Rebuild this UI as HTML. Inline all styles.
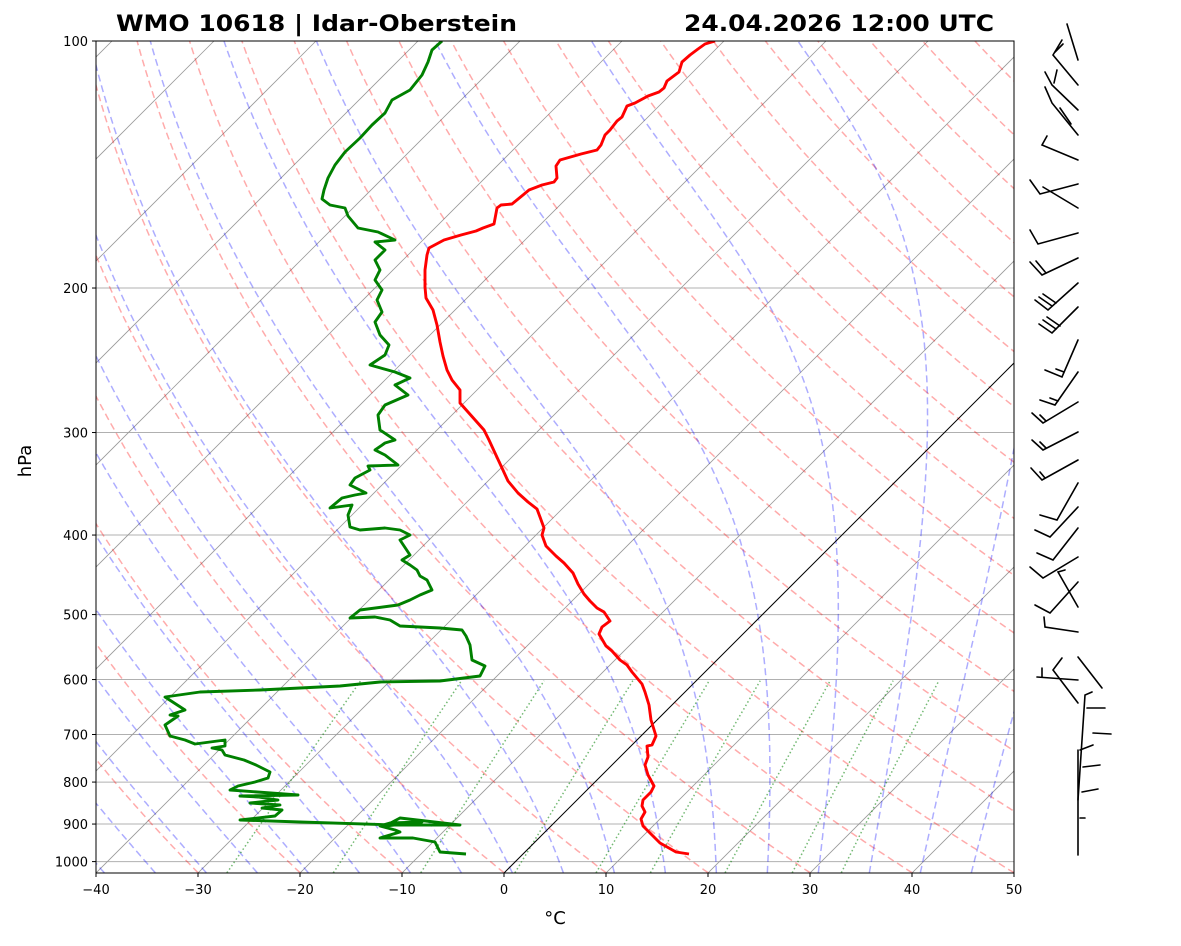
<!DOCTYPE html>
<html><head><meta charset="utf-8"><style>
body{margin:0;background:#fff;}
svg text{font-family:"DejaVu Sans","Liberation Sans",sans-serif;}
</style></head><body>
<svg id="s" width="1181" height="941" xmlns="http://www.w3.org/2000/svg">
<defs><clipPath id="c"><rect x="96" y="41" width="918" height="832"/></clipPath></defs>
<rect width="1181" height="941" fill="#fff"/>
<g id="bg" clip-path="url(#c)"></g>
<g id="data" clip-path="url(#c)"></g>
<rect x="96" y="41" width="918" height="832" fill="none" stroke="#000" stroke-width="1"/>
<g id="ax"></g>
<g id="barbs" stroke="#000" stroke-width="1.6" fill="none" stroke-linecap="round"></g>
<text x="116" y="31" font-size="22" font-weight="bold" textLength="401" lengthAdjust="spacingAndGlyphs">WMO 10618 | Idar-Oberstein</text>
<text x="684" y="31" font-size="22" font-weight="bold" textLength="310" lengthAdjust="spacingAndGlyphs">24.04.2026 12:00 UTC</text>
<text x="31" y="461" font-size="18" text-anchor="middle" transform="rotate(-90 31 461)">hPa</text>
<text x="555" y="924" font-size="18" text-anchor="middle">°C</text>
</svg>
<script>
const NS="http://www.w3.org/2000/svg";
const PB=1032, Y0=41, D=820.6;
function Y(p){return Y0+D*Math.log10(p/100);}
function X(T,p){const y=Y(p);return 504+10.2*T+(873-y);}
function el(parent,tag,attrs){const e=document.createElementNS(NS,tag);for(const k in attrs)e.setAttribute(k,attrs[k]);parent.appendChild(e);return e;}
function poly(parent,pts,attrs){attrs.points=pts.map(q=>q[0].toFixed(1)+","+q[1].toFixed(1)).join(" ");attrs.fill="none";return el(parent,"polyline",attrs);}
const bg=document.getElementById("bg"), ax=document.getElementById("ax");
for(let p=100;p<=1000;p+=100){el(bg,"line",{x1:96,x2:1014,y1:Y(p),y2:Y(p),stroke:"#b0b0b0","stroke-width":1});}
for(let T=-130;T<=50;T+=10){if(T===0)continue;el(bg,"line",{x1:X(T,PB),y1:Y(PB),x2:X(T,100),y2:Y(100),stroke:"#999","stroke-width":0.8});}
const ps=[];for(let p=PB;p>=99;p-=4)ps.push(p);ps.push(100);
for(let t=-30;t<=200;t+=10){const th=t+273.15;const pts=ps.map(p=>[X(th*Math.pow(p/PB,0.2857)-273.15,p),Y(p)]);poly(bg,pts,{stroke:"rgba(255,0,0,0.33)","stroke-width":1.5,"stroke-dasharray":"7,4"});}
function dTdp(p,T){const es=6.112*Math.exp(17.67*(T-273.15)/(T-29.65));const rs=0.622*es/Math.max(p-es,1);const num=287.04*T+2.501e6*rs;const den=1005.7+2.501e6*2.501e6*rs*0.622/(287.04*T*T);return num/den/p;}
for(let k=-10;k<=9;k++){const t0=5*k+0.8;let T=t0+273.15,p=PB;const pts=[[X(t0,p),Y(p)]];const h=-2;while(p>100){const k1=dTdp(p,T),k2=dTdp(p+h/2,T+h/2*k1),k3=dTdp(p+h/2,T+h/2*k2),k4=dTdp(p+h,T+h*k3);T+=h/6*(k1+2*k2+2*k3+k4);p+=h;pts.push([X(T-273.15,p),Y(p)]);}poly(bg,pts,{stroke:"rgba(0,0,255,0.32)","stroke-width":1.5,"stroke-dasharray":"7,4"});}
[0.0004,0.001,0.002,0.004,0.007,0.01,0.016,0.024,0.032].forEach(w=>{const pts=[];for(let p=PB;p>=600;p-=10){const e=p*w/(0.622+w);const l=Math.log(e/6.112);pts.push([X(243.5*l/(17.67-l),p),Y(p)]);}poly(bg,pts,{stroke:"rgba(0,128,0,0.55)","stroke-width":1.5,"stroke-dasharray":"1.5,2.5"});});
el(bg,"line",{x1:X(0,PB),y1:Y(PB),x2:X(0,100),y2:Y(100),stroke:"#000","stroke-width":1});
for(let p=100;p<=1000;p+=100){const y=Y(p);el(ax,"line",{x1:92,x2:96,y1:y,y2:y,stroke:"#000"});const t=el(ax,"text",{x:88,y:y+5,"font-size":13,"text-anchor":"end"});t.textContent=p;}
for(let T=-40;T<=50;T+=10){const x=96+(T+40)*10.2;el(ax,"line",{x1:x,x2:x,y1:873,y2:877,stroke:"#000"});const t=el(ax,"text",{x:x,y:894,"font-size":13,"text-anchor":"middle"});t.textContent=(T<0?"\u2212"+(-T):T);}
const data=document.getElementById("data");
const red=[[689,854],[676,852],[660,843],[643,826],[641,819],[645,812],[642,806],[643,800],[651,792],[654,786],[648,775],[645,765],[648,757],[647,746],[652,745],[656,736],[651,720],[649,705],[645,692],[642,684],[637,678],[632,672],[627,665],[620,660],[612,651],[606,646],[599,634],[602,627],[610,621],[604,612],[597,608],[590,601],[584,594],[578,584],[573,573],[564,563],[556,556],[546,546],[542,535],[544,528],[540,517],[537,509],[528,502],[518,493],[508,481],[502,468],[495,453],[489,440],[484,430],[476,421],[468,412],[460,403],[460,390],[452,380],[447,370],[443,356],[440,342],[437,325],[433,310],[426,298],[425,287],[425,270],[427,255],[429,248],[444,240],[461,235],[476,231],[483,228],[494,224],[497,208],[501,205],[512,204],[523,195],[529,190],[542,185],[554,182],[557,178],[556,166],[560,160],[581,154],[597,150],[601,145],[605,135],[610,130],[617,121],[622,117],[627,106],[635,103],[648,96],[659,92],[664,88],[667,81],[679,72],[682,62],[690,55],[698,49],[705,44],[715,41]];
const grn=[[466,854],[440,852],[435,842],[413,838],[380,838],[400,832],[395,830],[380,826],[390,823],[422,822],[385,826],[400,818],[460,825],[395,825],[300,822],[240,820],[275,816],[282,810],[262,808],[280,805],[250,803],[278,800],[258,797],[240,796],[298,795],[230,790],[238,786],[255,782],[268,778],[270,772],[256,765],[244,760],[225,755],[222,750],[212,748],[225,746],[225,740],[195,744],[185,740],[170,736],[165,725],[178,716],[170,715],[185,710],[165,697],[200,692],[260,690],[340,686],[380,682],[440,681],[480,676],[485,666],[472,660],[470,645],[466,636],[462,630],[440,628],[400,626],[390,620],[375,617],[350,618],[360,610],[398,605],[410,600],[420,595],[432,590],[427,580],[420,576],[417,570],[410,565],[402,560],[410,555],[400,540],[410,535],[400,530],[385,528],[360,530],[350,527],[348,515],[352,505],[330,508],[342,498],[355,495],[366,493],[350,485],[355,478],[370,470],[368,466],[398,465],[385,455],[375,450],[385,443],[395,440],[380,430],[378,415],[385,405],[408,395],[395,385],[410,378],[395,372],[370,365],[385,355],[389,345],[380,335],[375,322],[382,312],[377,300],[382,290],[375,280],[380,270],[375,260],[385,250],[375,242],[395,240],[378,232],[358,228],[348,216],[345,208],[330,205],[322,199],[324,190],[328,178],[335,165],[345,152],[360,138],[372,125],[385,113],[392,100],[410,90],[422,75],[428,62],[432,50],[442,41]];
poly(data,red,{stroke:"#ff0000","stroke-width":2.9,"stroke-linejoin":"round"});
poly(data,grn,{stroke:"#008000","stroke-width":2.9,"stroke-linejoin":"round"});
const B=document.getElementById("barbs");
const bl=[
[[1078,60],[1067,24]],
[[1078,85],[1053,55],[1062,40]],[[1055,52],[1063,44]],
[[1078,110],[1052,85],[1045,72]],[[1054,83],[1057,70]],
[[1078,135],[1052,103],[1045,87]],[[1071,124],[1060,108]],
[[1078,160],[1042,145],[1047,136]],
[[1078,184],[1040,194],[1030,180]],[[1078,208],[1043,187]],
[[1078,233],[1038,244],[1030,230]],
[[1078,258],[1042,275],[1030,262]],[[1046,273],[1036,261]],
[[1078,283],[1048,310],[1035,300]],[[1052,306],[1039,297]],[[1056,303],[1043,294]],
[[1078,307],[1052,333],[1039,324]],[[1056,329],[1043,320]],[[1060,326],[1047,317]],
[[1078,340],[1062,377],[1045,370]],[[1064,372],[1056,369]],
[[1078,372],[1055,405],[1040,400]],[[1058,401],[1050,398]],
[[1078,402],[1043,423],[1032,413]],[[1046,421],[1040,415]],
[[1078,432],[1043,450],[1032,440]],[[1046,448],[1040,442]],
[[1078,460],[1042,480],[1031,468]],[[1045,478],[1040,472]],
[[1078,483],[1057,520],[1040,515]],
[[1078,507],[1050,537],[1035,530]],
[[1078,528],[1053,560],[1037,553]],
[[1078,557],[1043,578],[1030,567]],
[[1078,582],[1050,613],[1035,605]],[[1078,607],[1058,572],[1065,570]],
[[1078,632],[1045,627],[1044,617]],
[[1078,680],[1037,677]],[[1042,677],[1042,668]],
[[1078,703],[1053,670],[1062,658]],[[1102,688],[1078,657]],
[[1078,855],[1078,750]],[[1078,800],[1085,695],[1092,692]],
[[1087,708],[1105,708]],[[1093,733],[1111,734]],[[1080,750],[1093,745]],
[[1083,767],[1100,765]],[[1082,792],[1098,789]],[[1080,818],[1085,818]]
];
bl.forEach(pts=>poly(B,pts,{}));
</script>
</body></html>
